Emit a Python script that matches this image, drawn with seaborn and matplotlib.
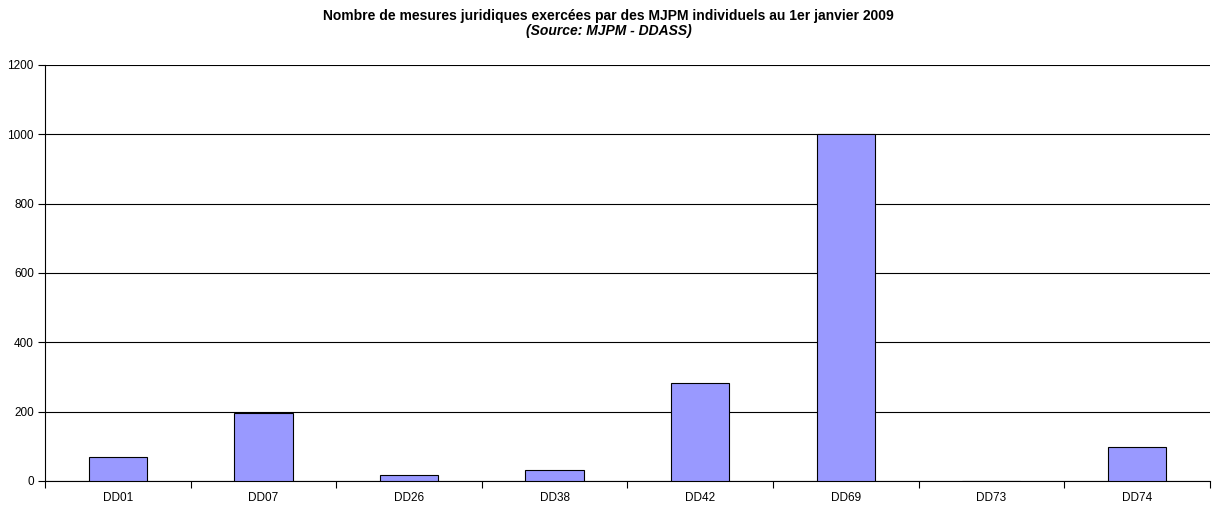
import matplotlib
matplotlib.use("Agg")
import matplotlib.pyplot as plt
from matplotlib.ticker import FixedLocator, NullFormatter
import seaborn as sns
import pandas as pd
import numpy as np

departements = ["DD01", "DD07", "DD26", "DD38", "DD42", "DD69", "DD73", "DD74"]
mesures = [70, 196, 17, 32, 283, 1001, 0, 99]
y_ticks = [0, 200, 400, 600, 800, 1000, 1200]

df = pd.DataFrame({"dept": departements, "mesures": mesures})

sns.set_style("white")
plt.rcParams["font.family"] = ["Liberation Sans", "DejaVu Sans"]

fig = plt.figure(figsize=(12.17, 5.11), dpi=100)
ax = fig.add_axes([0.037, 0.059, 0.957, 0.814])

sns.barplot(data=df, x="dept", y="mesures", color="#9999FF", saturation=1,
            width=0.4, edgecolor="black", linewidth=0.8, ax=ax, zorder=3)

ax.set_ylim(0, 1200)
ax.set_xlim(-0.5, len(departements) - 0.5)
ax.set_yticks(y_ticks)
ax.yaxis.grid(True, color="black", linewidth=0.8, zorder=0)
ax.set_axisbelow(True)

# tick marks between categories, labels centred under the bars
ax.xaxis.set_minor_locator(FixedLocator(np.arange(-0.5, len(departements), 1.0)))
ax.xaxis.set_minor_formatter(NullFormatter())
ax.tick_params(axis="x", which="major", bottom=True, length=0, labelsize=8.5, pad=8,
               labelcolor="black")
ax.tick_params(axis="x", which="minor", bottom=True, length=5, width=0.8,
               color="black", direction="out")
ax.tick_params(axis="y", left=True, length=5, width=0.8, color="black",
               direction="out", labelsize=8.5, pad=3, labelcolor="black")

for side in ["top", "right"]:
    ax.spines[side].set_visible(False)
for side in ["left", "bottom"]:
    ax.spines[side].set_color("black")
    ax.spines[side].set_linewidth(0.8)

ax.set_xlabel("")
ax.set_ylabel("")

fig.text(0.5, 0.968, "Nombre de mesures juridiques exercées par des MJPM individuels au 1er janvier 2009",
         ha="center", va="center", fontsize=10, fontweight="bold", color="black")
fig.text(0.5, 0.94, "(Source: MJPM - DDASS)", ha="center", va="center",
         fontsize=10, fontweight="bold", fontstyle="italic", color="black")

fig.savefig("out.png", dpi=100)
plt.close()
